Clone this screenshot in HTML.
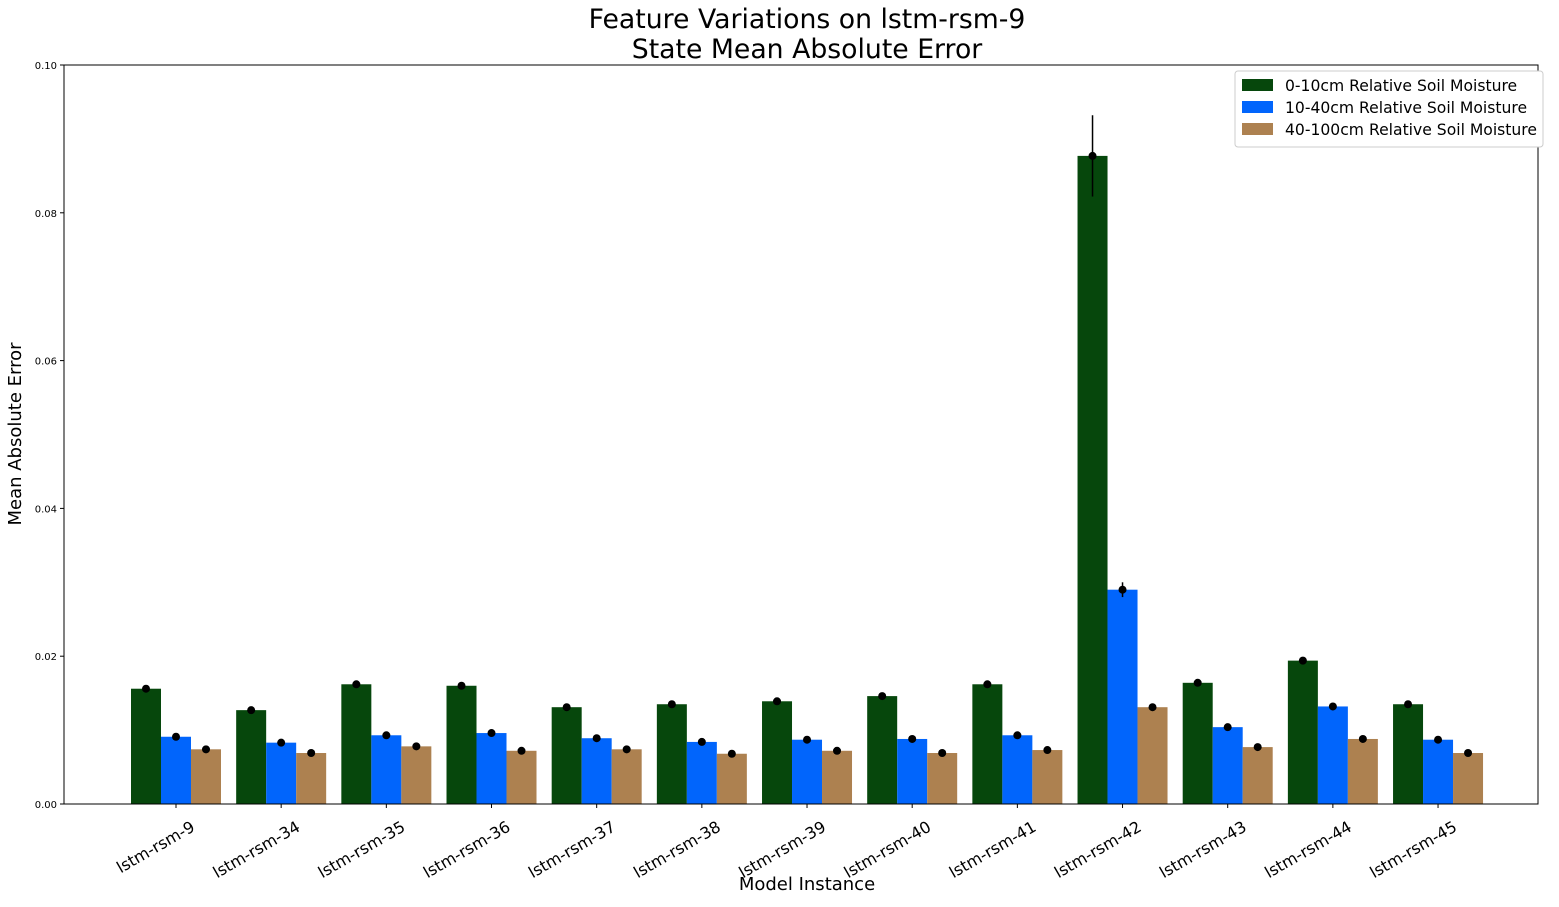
<!DOCTYPE html>
<html><head><meta charset="utf-8"><style>
body{margin:0;background:#fff;font-family:"Liberation Sans","DejaVu Sans",sans-serif}
svg text{font-family:"DejaVu Sans","Liberation Sans",sans-serif}
</style></head><body>
<svg id="chart" width="1559" height="902">
<text x="807" y="28" font-size="26.7" text-anchor="middle">Feature Variations on lstm-rsm-9</text>
<text x="807" y="58" font-size="26.7" text-anchor="middle">State Mean Absolute Error</text>
<text x="807" y="890" font-size="18" text-anchor="middle">Model Instance</text>
<text transform="translate(21,434) rotate(-90)" font-size="18" text-anchor="middle">Mean Absolute Error</text>
<g id="marks"></g>
<rect x="64" y="65" width="1474" height="739" fill="none" stroke="#000" stroke-width="1"/>
<g>
<rect x="1235" y="71" width="308" height="76" fill="#fff" stroke="#ccc" rx="3"/>
<rect x="1242" y="79" width="31" height="12" fill="#06470c"/>
<text x="1285" y="91" font-size="15.6">0-10cm Relative Soil Moisture</text>
<rect x="1242" y="101" width="31" height="12" fill="#0165fc"/>
<text x="1285" y="113" font-size="15.6">10-40cm Relative Soil Moisture</text>
<rect x="1242" y="123" width="31" height="12" fill="#ad8150"/>
<text x="1285" y="135" font-size="15.6">40-100cm Relative Soil Moisture</text>
</g>
</svg>
<script>
const categories=["lstm-rsm-9","lstm-rsm-34","lstm-rsm-35","lstm-rsm-36","lstm-rsm-37","lstm-rsm-38","lstm-rsm-39","lstm-rsm-40","lstm-rsm-41","lstm-rsm-42","lstm-rsm-43","lstm-rsm-44","lstm-rsm-45"];
const s0=[0.0156,0.0127,0.0162,0.0160,0.0131,0.0135,0.0139,0.0146,0.0162,0.0877,0.0164,0.0194,0.0135];
const s1=[0.0091,0.0083,0.0093,0.0096,0.0089,0.0084,0.0087,0.0088,0.0093,0.0290,0.0104,0.0132,0.0087];
const s2=[0.0074,0.0069,0.0078,0.0072,0.0074,0.0068,0.0072,0.0069,0.0073,0.0131,0.0077,0.0088,0.0069];
const e0=[0.0002,0.0002,0.0002,0.0002,0.0002,0.0002,0.0002,0.0002,0.0002,0.0055,0.0003,0.0002,0.0002];
const e1=[0.0001,0.0001,0.0001,0.0001,0.0001,0.0001,0.0001,0.0001,0.0001,0.0010,0.0001,0.0001,0.0001];
const e2=[0.0001,0.0001,0.0001,0.0001,0.0001,0.0001,0.0001,0.0001,0.0001,0.0002,0.0001,0.0001,0.0001];
const yTicks=[0,0.02,0.04,0.06,0.08,0.10];
const yTickLabels=["0.00","0.02","0.04","0.06","0.08","0.10"];
const seriesNames=["0-10cm","10-40cm","40-100cm"];
const NS="http://www.w3.org/2000/svg";
const y=v=>804-v*7390;
const xc=i=>176+i*105.17;
const g=document.getElementById('marks');
function mk(t,a){const e=document.createElementNS(NS,t);for(const k in a)e.setAttribute(k,a[k]);g.appendChild(e);return e;}
const colors=["#06470c","#0165fc","#ad8150"];
[s0,s1,s2].forEach((s,j)=>{const errs=[e0,e1,e2][j];
 s.forEach((v,i)=>{const cx=xc(i)+(j-1)*30;
  const r=mk('rect',{x:cx-15,y:y(v),width:30,height:804-y(v),fill:colors[j]});
  
  
  const l=mk('line',{x1:cx,x2:cx,y1:y(v+errs[i]),y2:y(v-errs[i]),stroke:'#000','stroke-width':1.5});
  
  
  const c=mk('circle',{cx:cx,cy:y(v),r:4,fill:'#000'});
  
  
 });});
yTicks.forEach((t,i)=>{
 const l=mk('line',{x1:60,x2:64,y1:y(t),y2:y(t),stroke:'#000'});
 
 
 const tx=mk('text',{x:57,y:y(t)+4,'font-size':10,'text-anchor':'end'});tx.textContent=yTickLabels[i];
 
 
});
categories.forEach((c,i)=>{
 const l=mk('line',{x1:xc(i),x2:xc(i),y1:804,y2:808,stroke:'#000'});
 
 
 const ax=xc(i)+20, ay=830;
 const tx=mk('text',{x:ax,y:ay,'font-size':16,'text-anchor':'end',transform:`rotate(-30 ${ax} ${ay})`});tx.textContent=c;
 
 
});
</script>
</body></html>
